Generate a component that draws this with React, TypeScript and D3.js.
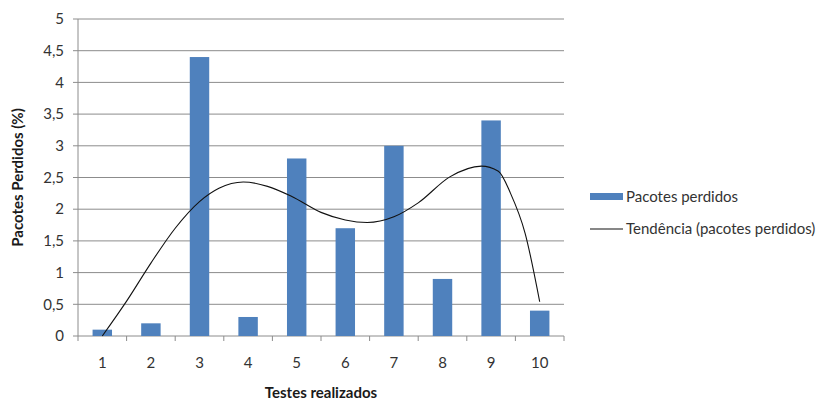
import React from "react";
import * as d3 from "d3";

// Pacotes perdidos por teste (%)
const categories = ["1", "2", "3", "4", "5", "6", "7", "8", "9", "10"];
const lostPackets = [0.1, 0.2, 4.4, 0.3, 2.8, 1.7, 3.0, 0.9, 3.4, 0.4];
const yTicks = [0, 0.5, 1, 1.5, 2, 2.5, 3, 3.5, 4, 4.5, 5];

// Linha de tendência (posição no eixo de testes, valor)
const trendX = [1.0, 1.5, 2.0, 2.5, 3.0, 3.4, 3.9, 4.4, 4.9, 5.5, 6.0, 6.45, 7.0, 7.5, 8.15, 8.8, 9.15, 9.4, 9.7, 10.0];
const trendY = [0.0, 0.55, 1.15, 1.7, 2.12, 2.33, 2.43, 2.36, 2.2, 1.95, 1.83, 1.79, 1.88, 2.1, 2.51, 2.68, 2.6, 2.25, 1.62, 0.54];

const W = 827;
const H = 403;
const left = 78;
const right = 564;
const top = 19;
const bottom = 336;
const FONT = "Lato, 'Open Sans', sans-serif";
const GRID = "#8c8c8c";
const BAR = "#4f81bd";
const FS = 15;

export default function App() {
  const x = d3.scaleBand<string>().domain(categories).range([left, right]).paddingInner(0.6).paddingOuter(0.3);
  const xBand = d3.scaleBand<string>().domain(categories).range([left, right]);
  const y = d3.scaleLinear().domain([0, 5]).range([bottom, top]);
  const xLin = d3.scaleLinear().domain([0.5, 10.5]).range([left, right]);

  const trendPts: [number, number][] = trendX.map((v, i) => [xLin(v), y(trendY[i])]);
  const trendPath = d3.line().curve(d3.curveMonotoneX)(trendPts) || "";

  const tickEdges = categories.map((c) => xBand(c) as number).concat([right]);

  return (
    <svg width={W} height={H} style={{ position: "absolute", left: 0, top: 0, background: "#fff" }} fontFamily={FONT}>
      <rect x={0} y={0} width={W} height={H} fill="#fff" />
      {yTicks.map((t) => (
        <g key={t}>
          {t > 0 && <line x1={left} x2={right} y1={y(t)} y2={y(t)} stroke={GRID} strokeWidth={1} />}
          <line x1={left - 5} x2={left} y1={y(t)} y2={y(t)} stroke={GRID} strokeWidth={1} />
          <text x={left - 14} y={y(t)} dy="0.35em" textAnchor="end" fontSize={FS} fill="#333">
            {String(t).replace(".", ",")}
          </text>
        </g>
      ))}
      <line x1={left} x2={left} y1={top} y2={bottom} stroke={GRID} strokeWidth={1} />
      <line x1={left} x2={right} y1={bottom} y2={bottom} stroke={GRID} strokeWidth={1} />
      {tickEdges.map((px, i) => (
        <line key={i} x1={px} x2={px} y1={bottom} y2={bottom + 5} stroke={GRID} strokeWidth={1} />
      ))}
      {categories.map((c, i) => (
        <rect key={c} x={x(c)} y={y(lostPackets[i])} width={x.bandwidth()} height={bottom - y(lostPackets[i])} fill={BAR} />
      ))}
      {categories.map((c) => (
        <text key={c} x={(xBand(c) as number) + xBand.bandwidth() / 2} y={363} dy="0.35em" textAnchor="middle" fontSize={FS} fill="#333">
          {c}
        </text>
      ))}
      <path d={trendPath} fill="none" stroke="#111" strokeWidth={1.1} />
      <text x={(left + right) / 2} y={393} dy="0.35em" textAnchor="middle" fontSize={FS} fontWeight="bold" fill="#1a1a1a">
        Testes realizados
      </text>
      <text transform={`translate(18, ${(top + bottom) / 2}) rotate(-90)`} dy="0.35em" textAnchor="middle" fontSize={FS} fontWeight="bold" fill="#1a1a1a">
        Pacotes Perdidos (%)
      </text>
      <rect x={590} y={193} width={33} height={7} fill={BAR} />
      <text x={626} y={196.5} dy="0.35em" fontSize={FS} fill="#333">Pacotes perdidos</text>
      <line x1={590} x2={623} y1={229} y2={229} stroke="#111" strokeWidth={1.1} />
      <text x={626} y={229} dy="0.35em" fontSize={FS} fill="#333">Tendência (pacotes perdidos)</text>
    </svg>
  );
}
